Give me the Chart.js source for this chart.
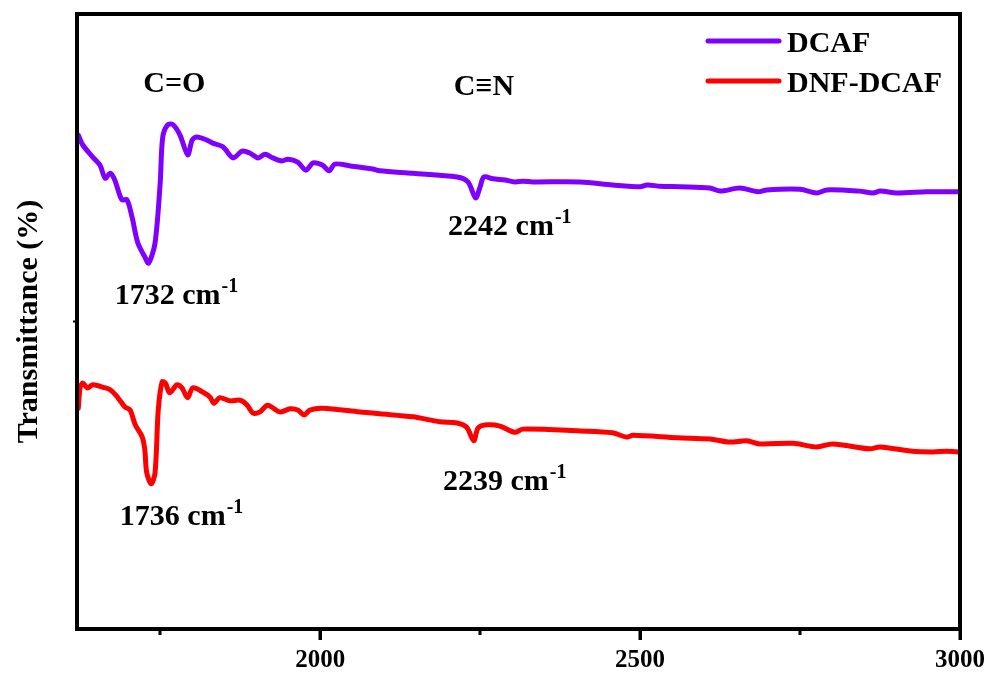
<!DOCTYPE html>
<html>
<head>
<meta charset="utf-8">
<script src="https://cdn.jsdelivr.net/npm/chart.js@4/dist/chart.umd.min.js"></script>
<style>
html,body{margin:0;padding:0;background:#fff;}
canvas{display:block;}
</style>
</head>
<body>
<canvas id="c" width="989" height="675"></canvas>
<script>
const wavenumberDCAF = [1622,1629,1645,1656,1664,1672,1679,1690,1698,1706,1715,1726,1732,1742,1750,1754,1762,1770,1781,1793,1800,1807,1823,1832,1848,1864,1878,1890,1903,1914,1926,1940,1950,1965,1978,1989,2004,2014,2023,2047,2082,2093,2145,2214,2231,2243,2250,2256,2270,2289,2304,2317,2332,2406,2457,2500,2511,2531,2562,2609,2625,2656,2684,2698,2750,2776,2792,2843,2864,2875,2901,2948,2979,3000];
const transDCAF = [80.3,78.7,76.7,75.4,73.3,74.1,73.0,69.8,69.8,67.0,62.8,60.5,59.5,62.8,72.5,80.0,82.0,82.0,80.3,77.1,79.5,80.0,79.5,79.0,78.4,76.6,77.7,77.4,76.6,77.2,76.6,76.1,76.4,75.9,74.6,75.8,75.4,74.5,75.6,75.3,74.8,74.5,74.1,73.5,72.7,70.1,71.9,73.5,73.2,73.0,72.7,72.8,72.7,72.7,72.2,71.9,72.2,72.0,71.9,71.7,71.2,71.7,71.1,71.4,71.5,70.9,71.4,71.2,70.9,71.2,70.9,71.1,71.1,71.1];
const wavenumberDNF = [1622,1625,1629,1636,1645,1661,1672,1684,1695,1703,1711,1722,1726,1729,1736,1742,1747,1753,1758,1765,1776,1784,1793,1801,1817,1828,1834,1843,1859,1875,1886,1895,1906,1918,1937,1953,1965,1975,1984,2004,2062,2093,2145,2187,2214,2229,2240,2247,2261,2281,2304,2317,2406,2457,2479,2489,2558,2609,2640,2667,2687,2739,2776,2801,2859,2875,2926,2958,2979,3000];
const transDNF = [35.9,39.3,40.0,39.2,39.7,39.3,38.9,37.6,36.1,35.6,33.2,31.2,29.1,25.4,23.6,25.4,35.6,40.2,40.0,38.4,39.7,39.2,37.6,39.2,38.5,37.7,36.7,37.6,37.1,37.2,36.4,35.1,35.3,36.4,35.3,35.8,35.6,34.8,35.6,35.9,35.3,35.0,34.5,33.7,33.5,32.8,30.6,32.7,33.2,33.0,32.0,32.5,32.2,31.9,31.2,31.5,31.1,30.9,30.4,30.6,30.1,30.2,29.6,30.1,29.3,29.6,28.9,28.8,28.9,28.8];
const seriesNames = ['DCAF','DNF-DCAF'];
const majorTicks = [2000,2500,3000];
const minorTicks = [1750,2250,2750];
const xMin = 1620, xMax = 3000;
const annotations = [
  {text:'C=O', sup:'', x:1772, y:87.3, align:'center'},
  {text:'C\u2261N', sup:'', x:2256, y:86.8, align:'center'},
  {text:'1732 cm', sup:'-1', x:1679, y:52.8, align:'left'},
  {text:'2242 cm', sup:'-1', x:2200, y:64.1, align:'left'},
  {text:'1736 cm', sup:'-1', x:1687, y:16.9, align:'left'},
  {text:'2239 cm', sup:'-1', x:2192, y:22.6, align:'left'}
];

const FONT = '"Liberation Serif", "Times New Roman", serif';
const toPts = (xs, ys) => xs.map((x,i)=>({x:x, y:ys[i]}));

const framePlugin = {
  id:'frame',
  afterDraw(chart){
    const {ctx, chartArea:a, scales} = chart;
    ctx.save();
    ctx.strokeStyle = '#000';
    ctx.lineWidth = 4;
    ctx.strokeRect(a.left, a.top, a.right-a.left, a.bottom-a.top);
    ctx.lineWidth = 3;
    minorTicks.forEach(v=>{
      const px = Math.round(scales.x.getPixelForValue(v));
      ctx.beginPath(); ctx.moveTo(px, a.bottom); ctx.lineTo(px, a.bottom+6); ctx.stroke();
    });
    majorTicks.forEach(v=>{
      const px = Math.round(scales.x.getPixelForValue(v));
      ctx.beginPath(); ctx.moveTo(px, a.bottom); ctx.lineTo(px, a.bottom+11); ctx.stroke();
    });
    ctx.restore();
  }
};

const annoPlugin = {
  id:'anno',
  afterDatasetsDraw(chart){
    const {ctx, scales} = chart;
    ctx.save();
    ctx.fillStyle = '#000';
    ctx.textBaseline = 'alphabetic';
    annotations.forEach(an=>{
      ctx.font = 'bold 30px ' + FONT;
      const w1 = ctx.measureText(an.text).width;
      ctx.font = 'bold 20px ' + FONT;
      const w2 = an.sup ? ctx.measureText(an.sup).width : 0;
      let px = scales.x.getPixelForValue(an.x);
      const py = scales.y.getPixelForValue(an.y);
      if (an.align === 'center') px -= (w1+w2)/2;
      ctx.textAlign = 'left';
      ctx.font = 'bold 30px ' + FONT;
      ctx.fillText(an.text, px, py);
      if (an.sup){
        ctx.font = 'bold 20px ' + FONT;
        ctx.fillText(an.sup, px + w1 + 1, py - 12);
      }
    });
    ctx.restore();
  }
};

const legendPlugin = {
  id:'customLegend',
  afterDraw(chart){
    const {ctx} = chart;
    ctx.save();
    chart.data.datasets.forEach((ds,i)=>{
      const y = 41 + i*40;
      ctx.strokeStyle = ds.borderColor;
      ctx.lineWidth = 5;
      ctx.lineCap = 'round';
      ctx.beginPath(); ctx.moveTo(708, y); ctx.lineTo(779, y); ctx.stroke();
      ctx.fillStyle = '#000';
      ctx.font = 'bold 30px ' + FONT;
      ctx.textAlign = 'left';
      ctx.textBaseline = 'alphabetic';
      ctx.fillText(ds.label, 787, y + 11);
    });
    ctx.restore();
  }
};

new Chart(document.getElementById('c'), {
  type:'line',
  data:{
    datasets:[
      {label:seriesNames[0], data:toPts(wavenumberDCAF, transDCAF), borderColor:'#8000FF', borderWidth:5, pointRadius:0, tension:0.3, borderJoinStyle:'round', borderCapStyle:'round', fill:false},
      {label:seriesNames[1], data:toPts(wavenumberDNF, transDNF), borderColor:'#FF0000', borderWidth:5, pointRadius:0, tension:0.3, borderJoinStyle:'round', borderCapStyle:'round', fill:false}
    ]
  },
  options:{
    responsive:false,
    animation:false,
    devicePixelRatio:1,
    layout:{padding:{top:14, right:29, left:0, bottom:0}},
    plugins:{legend:{display:false}, tooltip:{enabled:false}},
    scales:{
      x:{
        type:'linear', min:xMin, max:xMax,
        afterBuildTicks(axis){ axis.ticks = majorTicks.map(v=>({value:v})); },
        afterFit(axis){ axis.height = 46; axis.paddingRight = 0; axis.paddingLeft = 0; },
        border:{display:false},
        grid:{display:true, drawOnChartArea:false, drawTicks:true, tickLength:11, tickWidth:3, tickColor:'#000'},
        ticks:{color:'#000', font:{family:FONT, size:25, weight:'bold'}, padding:6, maxRotation:0, callback:(v)=>String(v)}
      },
      y:{
        type:'linear', min:0, max:100,
        afterBuildTicks(axis){ axis.ticks = [{value:50}]; },
        afterFit(axis){ axis.width = 77; axis.paddingTop = 0; axis.paddingBottom = 0; },
        border:{display:false},
        grid:{display:true, drawOnChartArea:false, drawTicks:true, tickLength:4, tickWidth:2, tickColor:'#000'},
        ticks:{display:false},
        title:{display:true, text:'Transmittance (%)', color:'#000', font:{family:FONT, size:30, weight:'bold', lineHeight:1}, padding:{top:14, bottom:0}}
      }
    }
  },
  plugins:[framePlugin, annoPlugin, legendPlugin]
});
</script>
</body>
</html>
